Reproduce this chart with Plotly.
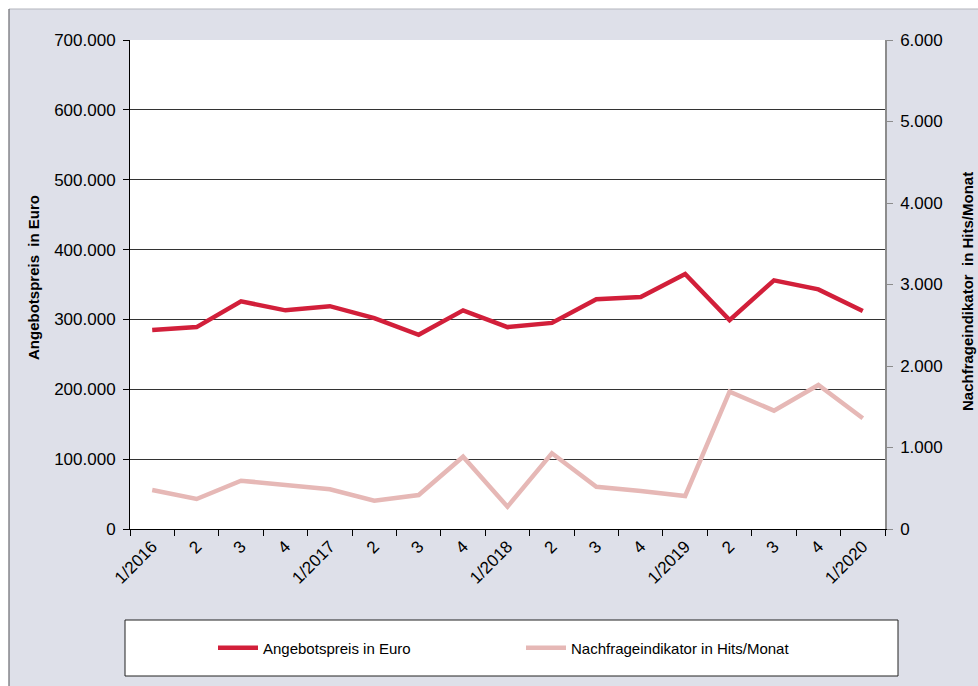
import plotly.graph_objects as go

labels = ["1/2016", "2", "3", "4", "1/2017", "2", "3", "4", "1/2018", "2", "3", "4",
          "1/2019", "2", "3", "4", "1/2020"]
angebotspreis = [285000, 289000, 326000, 313000, 319000, 302000, 278000, 313000, 289000,
                 295000, 329000, 332000, 365000, 299000, 356000, 343000, 312000]
nachfrage = [478, 368, 593, 540, 487, 347, 417, 887, 274, 929, 519, 466, 405,
             1685, 1452, 1767, 1358]

W, H = 978, 686
L, R, T, B = 130, 885, 40, 529


def px(x):
    return (x - L) / (R - L)


def py(y):
    return (B - y) / (B - T)


FONT = "Liberation Sans, Arial, sans-serif"
xs = list(range(len(labels)))

fig = go.Figure()
fig.add_trace(go.Scatter(x=xs, y=angebotspreis, mode="lines", name="Angebotspreis in Euro",
                         line=dict(color="#d21f3a", width=4.5), yaxis="y"))
fig.add_trace(go.Scatter(x=xs, y=nachfrage, mode="lines", name="Nachfrageindikator in Hits/Monat",
                         line=dict(color="#e6b8b6", width=4.5), yaxis="y2"))

shapes = [
    dict(type="rect", xref="paper", yref="paper", x0=px(0), x1=px(W), y0=py(0), y1=py(9),
         fillcolor="white", line_width=0, layer="below"),
    dict(type="rect", xref="paper", yref="paper", x0=px(0), x1=px(9), y0=py(0), y1=py(H),
         fillcolor="white", line_width=0, layer="below"),
    dict(type="line", xref="paper", yref="paper", x0=px(9), x1=px(W), y0=py(9), y1=py(9),
         line=dict(color="#b4b6be", width=1.2), layer="below"),
    dict(type="line", xref="paper", yref="paper", x0=px(9), x1=px(9), y0=py(9), y1=py(H),
         line=dict(color="#6a6a70", width=1.2), layer="below"),
    dict(type="rect", xref="paper", yref="paper", x0=px(125), x1=px(898), y0=py(620), y1=py(676),
         fillcolor="white", line=dict(color="#222", width=1), layer="below"),
]

annotations = [
    dict(text="<b>Angebotspreis  in Euro</b>", xref="paper", yref="paper", x=px(33), y=py(278),
         textangle=-90, showarrow=False, xanchor="center", yanchor="middle",
         font=dict(family=FONT, size=15, color="black")),
    dict(text="<b>Nachfrageindikator  in Hits/Monat</b>", xref="paper", yref="paper", x=px(967), y=py(292),
         textangle=-90, showarrow=False, xanchor="center", yanchor="middle",
         font=dict(family=FONT, size=15, color="black")),
]

fig.update_layout(
    width=W, height=H,
    margin=dict(l=L, r=W - R, t=T, b=H - B),
    paper_bgcolor="#dee0e9",
    plot_bgcolor="white",
    separators=",.",
    font=dict(family=FONT, size=16, color="black"),
    showlegend=True,
    legend=dict(orientation="h", x=px(213), y=py(648), xanchor="left", yanchor="middle",
                bgcolor="rgba(0,0,0,0)", font=dict(family=FONT, size=15, color="black"),
                entrywidth=253, entrywidthmode="pixels", itemwidth=40),
    shapes=shapes,
    annotations=annotations,
    xaxis=dict(range=[-0.5, len(labels) - 0.5], tickvals=xs, ticktext=labels, tickangle=-45,
               ticks="", showgrid=False, zeroline=False, showline=True, linecolor="black",
               linewidth=1, tickfont=dict(family=FONT, size=17),
               minor=dict(ticks="outside", ticklen=6, tickcolor="black", tick0=-0.5, dtick=1,
                          showgrid=False)),
    yaxis=dict(range=[0, 700000], dtick=100000, tickformat=",d", showgrid=True,
               gridcolor="#333333", gridwidth=1, zeroline=False, showline=True,
               linecolor="black", linewidth=1, ticks="outside", ticklen=6, tickcolor="black",
               tickfont=dict(family=FONT, size=17), ticklabelstandoff=4),
    yaxis2=dict(range=[0, 6000], dtick=1000, tickformat=",d", overlaying="y", side="right",
                showgrid=False, zeroline=False, showline=True, linecolor="#8c8c8c", linewidth=1.5,
                ticks="outside", ticklen=6, tickcolor="#8c8c8c",
                tickfont=dict(family=FONT, size=17), ticklabelstandoff=4),
)

fig.write_html("out.html")
